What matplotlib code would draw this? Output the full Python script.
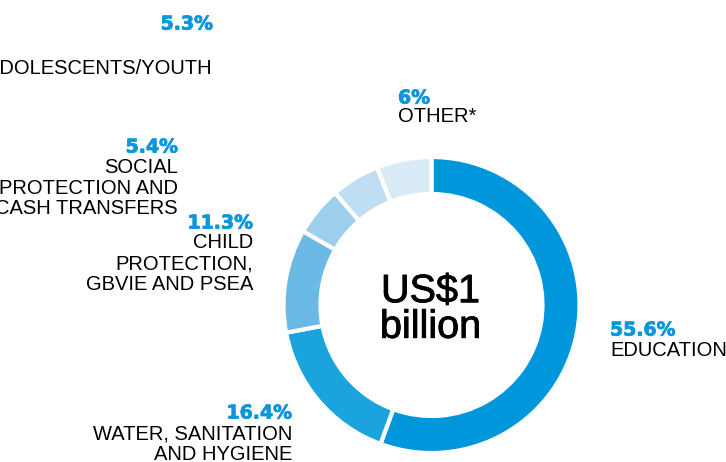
import matplotlib

matplotlib.use('Agg')

import matplotlib.pyplot as plt
import matplotlib.patheffects as pe

# funding breakdown, clockwise from 12 o'clock
shares = [55.6, 16.4, 11.3, 5.4, 5.3, 6.0]
pct_text = ['55.6%', '16.4%', '11.3%', '5.4%', '5.3%', '6%']
names = [
    ['EDUCATION'],
    ['WATER, SANITATION', 'AND HYGIENE'],
    ['CHILD', 'PROTECTION,', 'GBVIE AND PSEA'],
    ['SOCIAL', 'PROTECTION AND', 'CASH TRANSFERS'],
    ['ADOLESCENTS/YOUTH'],
    ['OTHER*'],
]
colors = ['#0096dc', '#1ba3dd', '#6bbae5', '#9dcfec', '#bfdef3', '#d8eaf5']
total_label = 'US$1\nbillion'

W, H = 726, 462

# label anchors in pixel coordinates (x, y of percentage line, alignment, gap to first name line)
anchors = [
    (610, 330, 'left', 20),
    (292, 413, 'right', 20.5),
    (253, 223, 'right', 20),
    (178, 147, 'right', 20.5),
    (213, 24, 'right', 44),
    (398, 98, 'left', 19),
]
line_step = 20.5

fig = plt.figure(figsize=(W / 100, H / 100), dpi=100)
ax = fig.add_axes([0, 0, 1, 1])

cx, cy = 431.5, H - 305
ax.pie(shares, colors=colors, startangle=90, counterclock=False,
       center=(cx, cy), radius=148,
       wedgeprops=dict(width=37, edgecolor='white', linewidth=3))
ax.set_xlim(0, W)
ax.set_ylim(0, H)
ax.axis('off')

ax.text(cx - 1, H - 309, total_label, ha='center', va='center',
        fontsize=28.5, family='Liberation Sans', color='black',
        linespacing=0.92, multialignment='center',
        path_effects=[pe.withStroke(linewidth=0.6, foreground='black')])

for pct, lines, (x, y, ha, gap) in zip(pct_text, names, anchors):
    ax.text(x, H - y, pct, ha=ha, va='center', fontsize=13.6,
            fontweight='bold', family='DejaVu Sans', color='#0d97da',
            path_effects=[pe.withStroke(linewidth=0.6, foreground='#0d97da')])
    for i, line in enumerate(lines):
        ly = y + gap + i * line_step
        ax.text(x, H - ly, line, ha=ha, va='center', fontsize=14.5,
                family='Liberation Sans', color='black')

fig.savefig('out.png', dpi=100)
